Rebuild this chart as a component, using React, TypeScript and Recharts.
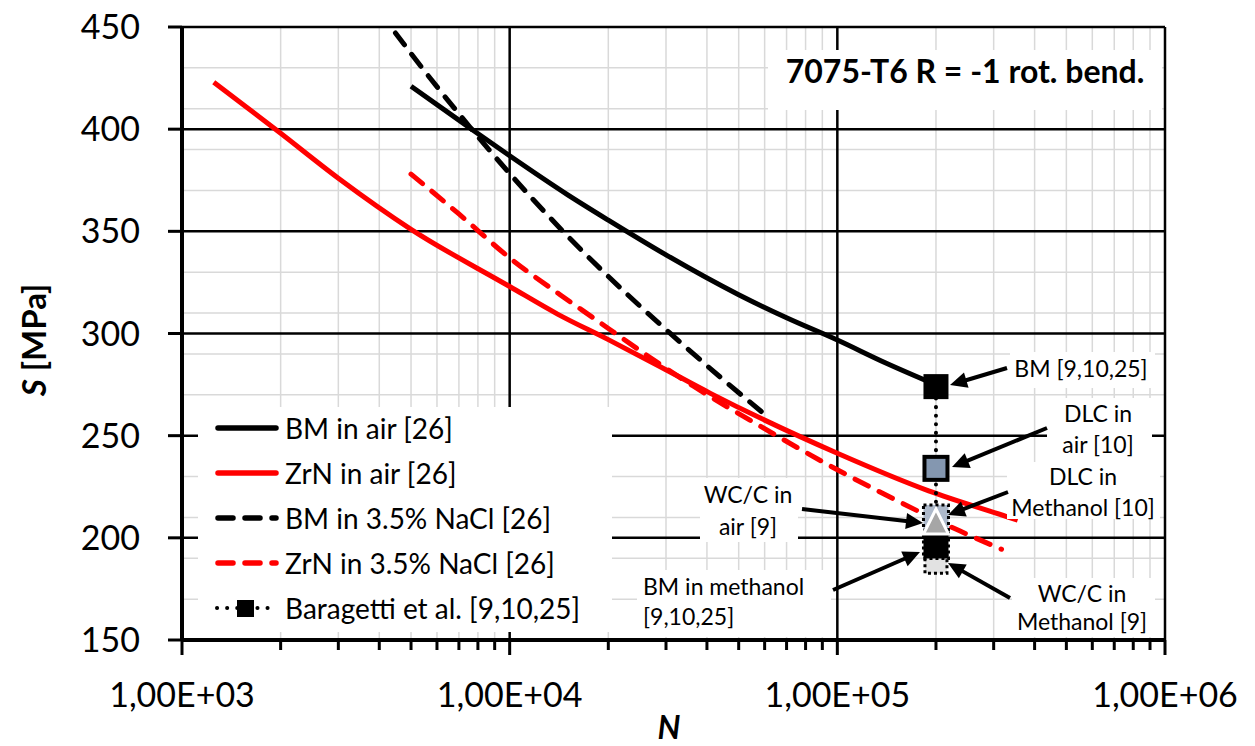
import React from 'react';
import { LineChart, Line, XAxis, YAxis, CartesianGrid, Legend } from 'recharts';

const FONT = 'Lato, "Open Sans", sans-serif';

// fatigue curves (N cycles, S MPa)
const BM_AIR_N = [5000, 7500, 10000, 15000, 20000, 30000, 50000, 70000, 100000, 140000, 200000];
const BM_AIR_S = [421, 401, 387, 368, 355.5, 338.5, 319, 307.7, 296.8, 285.7, 274.9];

const ZRN_AIR_N = [1250, 2000, 3000, 5000, 10000, 14000, 20000, 29000, 41000, 100000, 190000, 330000, 355000];
const ZRN_AIR_S = [423, 398, 376, 351, 323, 309.5, 297, 283.5, 270.7, 241.4, 223, 210.3, 208.6];

const BM_NACL_N = [4000, 5000, 7000, 10000, 15000, 22800, 30800, 43900, 62300];
const BM_NACL_S = [457.8, 437, 407.5, 378.3, 347.8, 319.3, 300.3, 278.7, 258.3];

const ZRN_NACL_N = [5000, 7000, 10000, 14250, 17500, 30000, 36300, 58100, 100000, 135000, 237000, 317000];
const ZRN_NACL_S = [378, 358.5, 337, 319, 309, 283, 274.3, 254.7, 233.3, 222.4, 203.3, 194.4];

// Baragetti et al. points, all at 2e5 cycles (drawing order bottom -> top)
const BARAGETTI_N = 200000;
const BARAGETTI_KINDS = ['WC/C methanol', 'BM methanol', 'DLC methanol', 'WC/C air', 'DLC air', 'BM'];
const BARAGETTI_S = [188, 196, 210, 208, 234, 274];

const SERIES_NAMES = [
  'BM in air [26]',
  'ZrN in air [26]',
  'BM in 3.5% NaCl [26]',
  'ZrN in 3.5% NaCl [26]',
  'Baragetti et al. [9,10,25]',
];

const DECADES = [1000, 10000, 100000, 1000000];
const X_TICKS = [1000, 10000, 100000].flatMap((d) => [1, 2, 3, 4, 5, 6, 7, 8, 9].map((k) => k * d)).concat([1000000]);
const Y_TICKS = [150, 200, 250, 300, 350, 400, 450];
const Y_MINOR = [150, 160, 170, 180, 190, 200, 210, 220, 230, 240, 250, 260, 270, 280, 290, 300, 310, 320, 330, 340, 350, 360, 370, 380, 390, 400, 410, 420, 430, 440, 450];

const toPoints = (ns: number[], ss: number[]) => ns.map((n, i) => ({ n, s: ss[i] }));

const bmAir = toPoints(BM_AIR_N, BM_AIR_S);
const zrnAir = toPoints(ZRN_AIR_N, ZRN_AIR_S);
const bmNacl = toPoints(BM_NACL_N, BM_NACL_S);
const zrnNacl = toPoints(ZRN_NACL_N, ZRN_NACL_S);
const baragetti = BARAGETTI_S.map((s, i) => ({ n: BARAGETTI_N, s, kind: BARAGETTI_KINDS[i] }));

const LINE_STYLE: Record<string, { stroke: string; dash?: string }> = {
  'BM in air [26]': { stroke: '#000' },
  'ZrN in air [26]': { stroke: '#ff0000' },
  'BM in 3.5% NaCl [26]': { stroke: '#000', dash: '15 12' },
  'ZrN in 3.5% NaCl [26]': { stroke: '#ff0000', dash: '15 12' },
  'Baragetti et al. [9,10,25]': { stroke: '#000', dash: '0.1 8.5' },
};

const MARKERS: Record<string, any> = {
  BM: { shape: 'square', size: 25, fill: '#000', stroke: 'none' },
  'DLC air': { shape: 'square', size: 23, fill: '#8497b0', stroke: '#000', width: 4 },
  'DLC methanol': { shape: 'square', size: 25, fill: '#adb9ca', stroke: '#000', width: 3, dash: '3 3' },
  'WC/C air': { shape: 'triangle', size: 25, fill: '#a6a6a6', stroke: '#fff', width: 3 },
  'BM methanol': { shape: 'square', size: 25, fill: '#000', stroke: '#000', width: 3, dash: '3 3' },
  'WC/C methanol': { shape: 'square', size: 22, fill: '#e2e2e2', stroke: '#000', width: 3, dash: '3 3' },
};

function fmtTick(v: number) {
  const e = Math.round(Math.log10(v));
  return `1,00E+${String(e).padStart(2, '0')}`;
}

function XTick(props: any) {
  const { x, y, payload } = props;
  const major = DECADES.includes(payload.value);
  return (
    <g>
      <line x1={x} x2={x} y1={y} y2={y + (major ? 15 : 10)} stroke="#000" strokeWidth={3} />
      {major && (
        <text x={x} y={y + 67} textAnchor="middle" fontSize={34} fontFamily={FONT} fill="#000">
          {fmtTick(payload.value)}
        </text>
      )}
    </g>
  );
}

function BaragettiDot(props: any) {
  const { cx, cy, payload, index } = props;
  const m = MARKERS[payload.kind];
  if (cx == null || cy == null) return null;
  if (m.shape === 'triangle') {
    const h = m.size;
    return (
      <polygon
        key={index}
        points={`${cx},${cy - h / 2} ${cx + h / 2},${cy + h / 2} ${cx - h / 2},${cy + h / 2}`}
        fill={m.fill}
        stroke={m.stroke}
        strokeWidth={m.width}
      />
    );
  }
  return (
    <rect
      key={index}
      x={cx - m.size / 2}
      y={cy - m.size / 2}
      width={m.size}
      height={m.size}
      fill={m.fill}
      stroke={m.stroke}
      strokeWidth={m.width || 0}
      strokeDasharray={m.dash}
    />
  );
}

function LegendBox(props: any) {
  const items = [...(props.payload || [])].sort(
    (a: any, b: any) => SERIES_NAMES.indexOf(a.value) - SERIES_NAMES.indexOf(b.value)
  );
  return (
    <div style={{ width: 414, height: 225, background: '#fff', fontFamily: FONT, fontSize: 28, color: '#000' }}>
      {items.map((p: any, i: number) => {
        const st = LINE_STYLE[p.value] || { stroke: p.color };
        const isBar = p.value === SERIES_NAMES[4];
        return (
          <div key={p.value} style={{ position: 'absolute', left: 0, top: -1.5 + i * 45, height: 45, display: 'flex', alignItems: 'center', whiteSpace: 'nowrap' }}>
            <svg width={87} height={30} style={{ display: 'block' }}>
              <line
                x1={isBar ? 19 : 20}
                x2={isBar ? 73 : 78}
                y1={15}
                y2={15}
                stroke={st.stroke}
                strokeWidth={isBar ? 4 : 5.5}
                strokeLinecap="round"
                strokeDasharray={isBar ? '0.1 10' : st.dash}
              />
              {isBar && <rect x={39} y={7} width={17} height={17} fill="#000" />}
            </svg>
            <span>{p.value}</span>
          </div>
        );
      })}
    </div>
  );
}

type Note = { lines: string[]; x: number; base: number[]; anchor: 'middle' | 'start'; box: number[]; from: number[]; to: number[] };

const NOTES: Note[] = [
  { lines: ['BM [9,10,25]'], x: 1081, base: [377], anchor: 'middle', box: [1010, 352, 145, 36], from: [1007, 368], to: [950, 385] },
  { lines: ['DLC in', 'air [10]'], x: 1098, base: [422, 453], anchor: 'middle', box: [1047, 398, 105, 64], from: [1047, 428], to: [952, 467] },
  { lines: ['DLC in', 'Methanol [10]'], x: 1083, base: [485, 516], anchor: 'middle', box: [1007, 462, 153, 57], from: [1008, 492], to: [948, 515] },
  { lines: ['WC/C in', 'air [9]'], x: 748, base: [503, 535], anchor: 'middle', box: [700, 478, 98, 64], from: [802, 509], to: [923, 523] },
  { lines: ['BM in methanol', '[9,10,25]'], x: 643, base: [595, 625], anchor: 'start', box: [637, 570, 194, 67], from: [833, 590], to: [920, 552] },
  { lines: ['WC/C in', 'Methanol [9]'], x: 1082, base: [602, 630], anchor: 'middle', box: [1012, 578, 143, 59], from: [1010, 598], to: [948, 563] },
];

function Arrow({ from, to }: { from: number[]; to: number[] }) {
  const dx = to[0] - from[0];
  const dy = to[1] - from[1];
  const len = Math.hypot(dx, dy);
  const ux = dx / len;
  const uy = dy / len;
  const hl = 17;
  const hw = 8;
  const bx = to[0] - ux * hl;
  const by = to[1] - uy * hl;
  return (
    <g>
      <line x1={from[0]} y1={from[1]} x2={bx + ux * 2} y2={by + uy * 2} stroke="#000" strokeWidth={4} />
      <polygon points={`${to[0]},${to[1]} ${bx - uy * hw},${by + ux * hw} ${bx + uy * hw},${by - ux * hw}`} fill="#000" />
    </g>
  );
}

export default function App() {
  return (
    <div style={{ position: 'relative', width: 1255, height: 746, background: '#fff', fontFamily: FONT }}>
      <style>{'body{margin:0;background:#fff}'}</style>
      <LineChart width={1255} height={746} margin={{ top: 27, right: 90, bottom: 0, left: 0 }}>
        <XAxis
          dataKey="n"
          type="number"
          scale="log"
          domain={[1000, 1000000]}
          allowDataOverflow
          ticks={X_TICKS}
          interval={0}
          height={106}
          tick={<XTick />}
          tickLine={false}
          tickSize={0}
          tickMargin={0}
          axisLine={{ stroke: '#000', strokeWidth: 4 }}
        />
        <XAxis xAxisId="major" dataKey="n" type="number" scale="log" domain={[1000, 1000000]} allowDataOverflow ticks={DECADES} hide />
        <YAxis
          type="number"
          domain={[150, 450]}
          allowDataOverflow
          ticks={Y_TICKS}
          interval={0}
          width={182}
          tickSize={14}
          tickMargin={28}
          tick={{ fontSize: 34, fill: '#000', fontFamily: FONT }}
          tickLine={{ stroke: '#000', strokeWidth: 3 }}
          axisLine={{ stroke: '#000', strokeWidth: 4 }}
        />
        <YAxis yAxisId="minor" type="number" domain={[150, 450]} allowDataOverflow ticks={Y_MINOR} hide />
        <CartesianGrid xAxisId={0} yAxisId="minor" stroke="#d9d9d9" strokeWidth={1.5} />
        <CartesianGrid xAxisId="major" yAxisId={0} stroke="#000" strokeWidth={2.5} />

        <Line data={bmAir} dataKey="s" name={SERIES_NAMES[0]} type="monotone" stroke="#000" strokeWidth={5} dot={false} activeDot={false} isAnimationActive={false} />
        <Line data={zrnAir} dataKey="s" name={SERIES_NAMES[1]} type="monotone" stroke="#ff0000" strokeWidth={5} dot={false} activeDot={false} isAnimationActive={false} />
        <Line data={bmNacl} dataKey="s" name={SERIES_NAMES[2]} type="monotone" stroke="#000" strokeWidth={5} strokeDasharray="15 12" strokeLinecap="round" dot={false} activeDot={false} isAnimationActive={false} />
        <Line data={zrnNacl} dataKey="s" name={SERIES_NAMES[3]} type="monotone" stroke="#ff0000" strokeWidth={5} strokeDasharray="15 12" strokeLinecap="round" dot={false} activeDot={false} isAnimationActive={false} />
        <Line data={baragetti} dataKey="s" name={SERIES_NAMES[4]} type="linear" stroke="#000" strokeWidth={4} strokeDasharray="0.1 8.5" strokeLinecap="round" dot={<BaragettiDot />} activeDot={false} isAnimationActive={false} />

        <Legend
          layout="vertical"
          align="center"
          verticalAlign="middle"
          width={414}
          height={225}
          wrapperStyle={{ left: 198, top: 407, width: 414, height: 225 }}
          content={<LegendBox />}
        />
      </LineChart>

      <svg width={1255} height={746} style={{ position: 'absolute', left: 0, top: 0, pointerEvents: 'none' }}>
        {/* title box */}
        <rect x={768} y={50} width={394} height={60} fill="#fff" />
        <text x={965} y={83} textAnchor="middle" fontSize={32} fontWeight={700} fontFamily={FONT} fill="#000">
          7075-T6 R = -1 rot. bend.
        </text>

        {/* axis titles */}
        <text transform="translate(46,340) rotate(-90)" textAnchor="middle" fontSize={33} fontWeight={700} fontFamily={FONT} fill="#000">
          <tspan fontStyle="italic">S</tspan> [MPa]
        </text>
        <text x={669} y={739} textAnchor="middle" fontSize={32} fontWeight={700} fontStyle="italic" fontFamily={FONT} fill="#000">
          N
        </text>

        {/* annotations */}
        {NOTES.map((nt, i) => (
          <g key={i}>
            <rect x={nt.box[0]} y={nt.box[1]} width={nt.box[2]} height={nt.box[3]} fill="#fff" />
            {nt.lines.map((l, j) => (
              <text key={j} x={nt.x} y={nt.base[j]} textAnchor={nt.anchor} fontSize={23} fontFamily={FONT} fill="#000">
                {l}
              </text>
            ))}
          </g>
        ))}
        {NOTES.map((nt, i) => (
          <Arrow key={i} from={nt.from} to={nt.to} />
        ))}
      </svg>
    </div>
  );
}
